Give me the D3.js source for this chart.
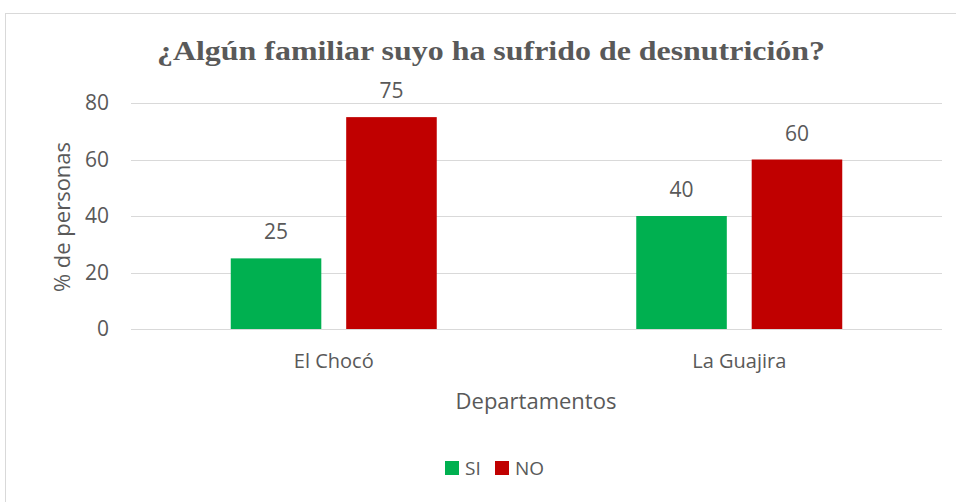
<!DOCTYPE html>
<html>
<head>
<meta charset="utf-8">
<script src="https://cdn.jsdelivr.net/npm/d3@7"></script>
<style>
  body { margin: 0; background: #fff; }
</style>
</head>
<body>
<div id="chart"></div>
<script>
// chart data
var departamentos = ["El Chocó", "La Guajira"];
var series = ["SI", "NO"];
var siValues = [25, 40];
var noValues = [75, 60];
var yTicks = [0, 20, 40, 60, 80];
var colors = { SI: "#00B050", NO: "#C00000" };

var W = 956, H = 502;
var margin = { top: 103, right: 14, bottom: 173, left: 131 },
  width = W - margin.left - margin.right,
  height = H - margin.top - margin.bottom;

var textColor = "#595959";
var labelFont = "'Open Sans', sans-serif";

var svg = d3.select("#chart")
  .append("svg")
  .attr("width", W)
  .attr("height", H);

// outer chart border (right and bottom run off the picture)
svg.append("rect")
  .attr("x", 5.5).attr("y", 13.5)
  .attr("width", W + 10).attr("height", H + 10)
  .attr("fill", "none")
  .attr("stroke", "#D9D9D9")
  .attr("stroke-width", 1);

// title
svg.append("text")
  .attr("x", 491)
  .attr("y", 60)
  .attr("text-anchor", "middle")
  .attr("font-family", "'Liberation Serif', 'Times New Roman', serif")
  .attr("font-weight", "bold")
  .attr("font-size", 28)
  .attr("fill", textColor)
  .attr("textLength", 668)
  .attr("lengthAdjust", "spacingAndGlyphs")
  .text("¿Algún familiar suyo ha sufrido de desnutrición?");

var g = svg.append("g")
  .attr("transform", "translate(" + margin.left + "," + margin.top + ")");

var x0 = d3.scaleBand()
  .domain(departamentos)
  .range([0, width])
  .padding(0);

var y = d3.scaleLinear()
  .domain([0, 80])
  .range([height, 0]);

// gridlines
g.append("g")
  .selectAll("line")
  .data(yTicks)
  .enter().append("line")
  .attr("x1", 0).attr("x2", width)
  .attr("y1", function (d) { return Math.round(y(d)) + 0.5; })
  .attr("y2", function (d) { return Math.round(y(d)) + 0.5; })
  .attr("stroke", "#D9D9D9")
  .attr("stroke-width", 1.2);

// y axis labels
var yAxis = g.append("g")
  .call(d3.axisLeft(y).tickValues(yTicks).tickSize(0).tickPadding(22));
yAxis.select(".domain").remove();
yAxis.selectAll("text")
  .attr("font-family", labelFont)
  .attr("font-size", 21)
  .attr("fill", textColor);

// bars
var groupWidth = 206;
var x1 = d3.scaleBand()
  .domain(series)
  .range([0, groupWidth])
  .paddingInner(25 / 116)
  .paddingOuter(0);

var rows = departamentos.map(function (d, i) {
  return { dep: d, SI: siValues[i], NO: noValues[i] };
});

var groups = g.selectAll(".grp")
  .data(rows)
  .enter().append("g")
  .attr("class", "grp")
  .attr("transform", function (d) {
    return "translate(" + (x0(d.dep) + x0.bandwidth() / 2 - groupWidth / 2) + ",0)";
  });

groups.selectAll("rect")
  .data(function (d) { return series.map(function (s) { return { key: s, value: d[s] }; }); })
  .enter().append("rect")
  .attr("x", function (d) { return x1(d.key); })
  .attr("y", function (d) { return y(d.value); })
  .attr("width", x1.bandwidth())
  .attr("height", function (d) { return height - y(d.value); })
  .attr("fill", function (d) { return colors[d.key]; });

// data labels
groups.selectAll(".lbl")
  .data(function (d) { return series.map(function (s) { return { key: s, value: d[s] }; }); })
  .enter().append("text")
  .attr("class", "lbl")
  .attr("x", function (d) { return x1(d.key) + x1.bandwidth() / 2; })
  .attr("y", function (d) { return y(d.value) - 19; })
  .attr("text-anchor", "middle")
  .attr("font-family", labelFont)
  .attr("font-size", 21)
  .attr("fill", textColor)
  .text(function (d) { return d.value; });

// x axis category labels
var xAxis = g.append("g")
  .attr("transform", "translate(0," + height + ")")
  .call(d3.axisBottom(x0).tickSize(0).tickPadding(25));
xAxis.select(".domain").remove();
xAxis.selectAll("text")
  .attr("font-family", labelFont)
  .attr("font-size", 20)
  .attr("fill", textColor);

// axis titles
svg.append("text")
  .attr("x", 536)
  .attr("y", 409)
  .attr("text-anchor", "middle")
  .attr("font-family", labelFont)
  .attr("font-size", 22)
  .attr("fill", textColor)
  .text("Departamentos");

svg.append("text")
  .attr("transform", "translate(70,217) rotate(-90)")
  .attr("text-anchor", "middle")
  .attr("font-family", labelFont)
  .attr("font-size", 22)
  .attr("fill", textColor)
  .text("% de personas");

// legend
var legend = svg.append("g")
  .attr("transform", "translate(445,461)");
var item = legend.selectAll("g")
  .data(series)
  .enter().append("g")
  .attr("transform", function (d, i) { return "translate(" + (i * 50) + ",0)"; });
item.append("rect")
  .attr("width", 14).attr("height", 14)
  .attr("fill", function (d) { return colors[d]; });
item.append("text")
  .attr("x", 20).attr("y", 14)
  .attr("font-family", labelFont)
  .attr("font-size", 19)
  .attr("fill", textColor)
  .text(function (d) { return d; });
</script>
</body>
</html>
